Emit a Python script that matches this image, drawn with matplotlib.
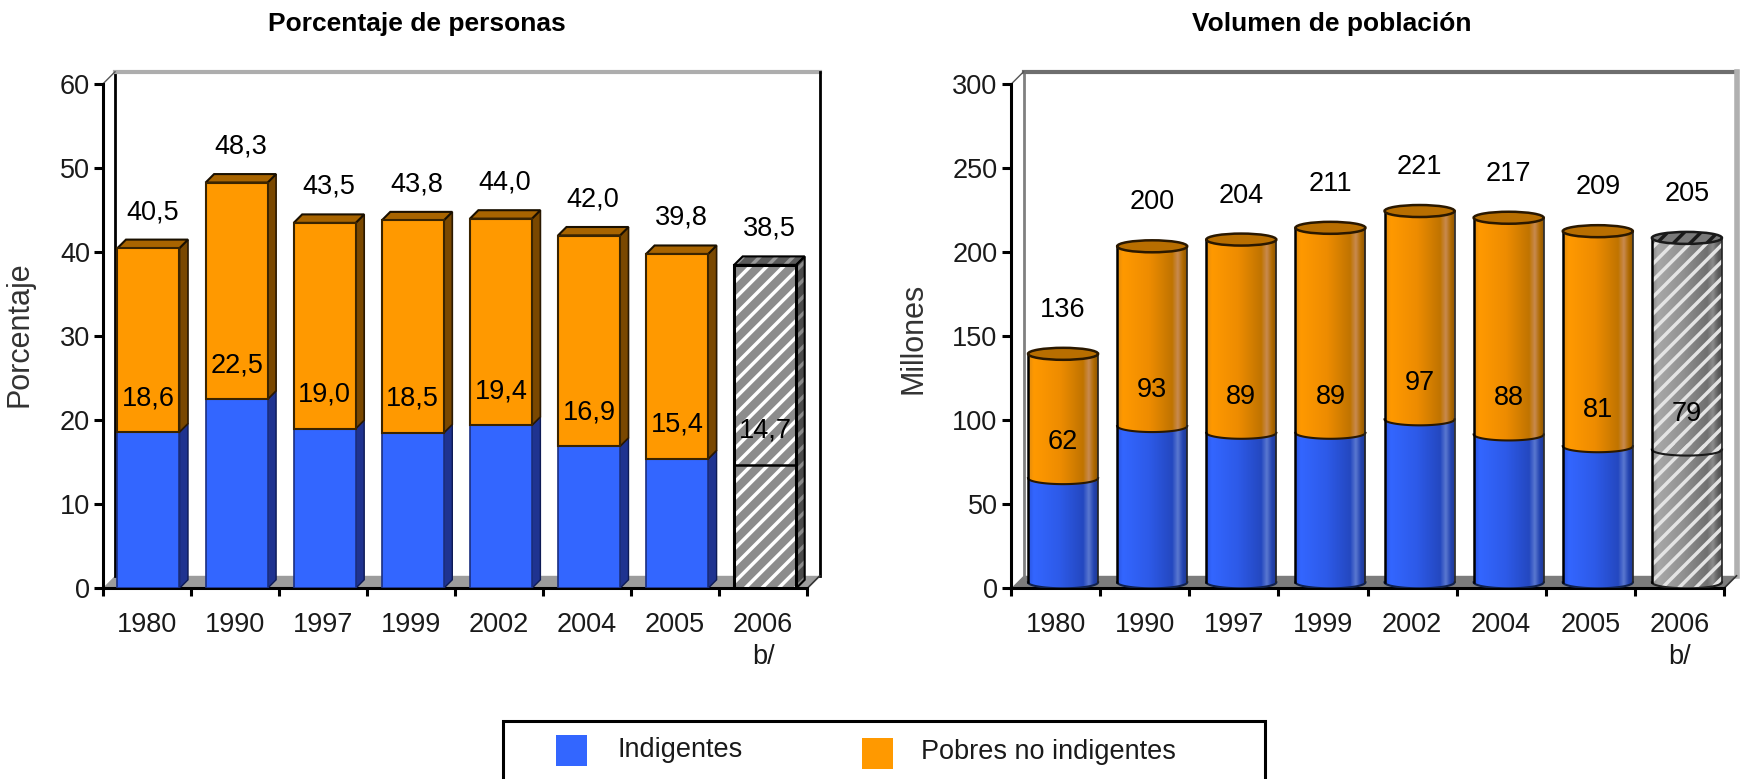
import numpy as np
import matplotlib
matplotlib.use('Agg')
import matplotlib.pyplot as plt
from matplotlib.patches import Polygon, Rectangle, PathPatch, Ellipse
from matplotlib.path import Path

plt.rcParams['font.family'] = ['Liberation Sans', 'DejaVu Sans']
plt.rcParams['hatch.linewidth'] = 2.5

# data
years = ['1980', '1990', '1997', '1999', '2002', '2004', '2005', '2006\nb/']
pct_indigentes = [18.6, 22.5, 19.0, 18.5, 19.4, 16.9, 15.4, 14.7]
pct_pobres = [40.5, 48.3, 43.5, 43.8, 44.0, 42.0, 39.8, 38.5]
mill_indigentes = [62, 93, 89, 89, 97, 88, 81, 79]
mill_pobres = [136, 200, 204, 211, 221, 217, 209, 205]
projected = [False, False, False, False, False, False, False, True]

BLUE = '#3366FF'
ORANGE = '#FF9900'
FS = 19.5

W, H = 1745, 779
fig = plt.figure(figsize=(W / 100, H / 100), dpi=100)


def px_axes(x0, x1, y_top, y_bot):
    return fig.add_axes([x0 / W, 1 - y_bot / H, (x1 - x0) / W, (y_bot - y_top) / H])


def depth(ax, ymax, px_x, px_y):
    bb = ax.get_position()
    return px_x / (bb.width * W) * 8, px_y / (bb.height * H) * ymax


def fmt(v):
    return f"{v:.1f}".replace('.', ',')


def setup(ax, ymax, step, pad):
    ax.set_xlim(0, 8)
    ax.set_ylim(0, ymax)
    ax.patch.set_visible(False)
    for s in ['top', 'right']:
        ax.spines[s].set_visible(False)
    for s in ['left', 'bottom']:
        ax.spines[s].set_linewidth(2.2)
        ax.spines[s].set_color('black')
    ax.set_yticks(np.arange(0, ymax + 1, step))
    ax.tick_params(axis='y', length=6.5, width=2.2, pad=pad, labelsize=FS, labelcolor='#1a1a1a')
    ax.set_xticks(range(9))
    ax.set_xticklabels([])
    ax.tick_params(axis='x', which='major', length=6, width=2.2)
    ax.set_xticks(np.arange(8) + 0.5, minor=True)
    ax.set_xticklabels(years, minor=True, fontsize=FS, color='#1a1a1a', linespacing=1.3)
    ax.tick_params(axis='x', which='minor', length=0, pad=17)


def wall(ax, ymax, floor_c, left_c, top_c, right_c, right_lw):
    dxw, dyw = depth(ax, ymax, 12.5, 12.5)
    ax.add_patch(Polygon([(0, 0), (8, 0), (8 + dxw, dyw), (dxw, dyw)], closed=True,
                         fc=floor_c, ec='none', clip_on=False, zorder=0.5))
    ax.plot([dxw, dxw], [dyw, ymax + dyw], color=left_c, lw=2, clip_on=False, zorder=0.6)
    ax.plot([dxw, 8 + dxw], [ymax + dyw] * 2, color=top_c, lw=3, clip_on=False, zorder=0.6)
    ax.plot([8 + dxw] * 2, [dyw, ymax + dyw], color=right_c, lw=right_lw, clip_on=False, zorder=0.6)
    ax.plot([0, dxw], [ymax, ymax + dyw], color='#555555', lw=1, clip_on=False)
    ax.plot([8, 8 + dxw], [0, dyw], color='#333333', lw=1.2, clip_on=False)


# ---------------- left chart: 3D bars ----------------
ax1 = px_axes(102.5, 807.3, 84.3, 588.3)
setup(ax1, 60, 10, 2.4)
wall(ax1, 60, '#9c9c9c', 'black', '#adadad', 'black', 2)

bw = 0.704
xc1 = np.arange(8) + 0.5 + 0.022
ddx, ddy = depth(ax1, 60, 8.5, 8.5)
upper = [t - i for t, i in zip(pct_pobres, pct_indigentes)]
low_c = ['#8c8c8c' if p else BLUE for p in projected]
up_c = ['#8c8c8c' if p else ORANGE for p in projected]
b_low = ax1.bar(xc1, pct_indigentes, width=bw, color=low_c, edgecolor='#1b2f80', lw=1.2, zorder=4)
b_up = ax1.bar(xc1, upper, bottom=pct_indigentes, width=bw, color=up_c, edgecolor='#3a2400', lw=1.5, zorder=4)
for i, p in enumerate(projected):
    if p:
        for b in (b_low[i], b_up[i]):
            b.set_hatch('//')
            b.set_edgecolor('white')
            b.set_linewidth(0)
        ax1.bar(xc1[i], pct_pobres[i], width=bw, fill=False, edgecolor='black', lw=2.2, zorder=5)
        ax1.plot([xc1[i] - bw / 2, xc1[i] + bw / 2], [pct_indigentes[i]] * 2, color='black', lw=1.8, zorder=5)

for i in range(8):
    x0, x1 = xc1[i] - bw / 2, xc1[i] + bw / 2
    ind, tot = pct_indigentes[i], pct_pobres[i]
    if projected[i]:
        side = Polygon([(x1, 0), (x1 + ddx, ddy), (x1 + ddx, tot + ddy), (x1, tot)], closed=True,
                       fc='#4a4a4a', ec='#8a8a8a', hatch='//', lw=0, zorder=3)
        ax1.add_patch(side)
        ax1.add_patch(Polygon([(x1, 0), (x1 + ddx, ddy), (x1 + ddx, tot + ddy), (x1, tot)], closed=True,
                              fill=False, ec='black', lw=1.5, zorder=3.5))
        ax1.add_patch(Polygon([(x0, tot), (x0 + ddx, tot + ddy), (x1 + ddx, tot + ddy), (x1, tot)],
                              closed=True, fc='#5a5a5a', ec='#9a9a9a', hatch='//', lw=0, zorder=3))
        ax1.add_patch(Polygon([(x0, tot), (x0 + ddx, tot + ddy), (x1 + ddx, tot + ddy), (x1, tot)],
                              closed=True, fill=False, ec='black', lw=1.5, zorder=3.5))
    else:
        ax1.add_patch(Polygon([(x1, 0), (x1 + ddx, ddy), (x1 + ddx, ind + ddy), (x1, ind)], closed=True,
                              fc='#1f3390', ec='#0d1a55', lw=1, zorder=3))
        ax1.add_patch(Polygon([(x1, ind), (x1 + ddx, ind + ddy), (x1 + ddx, tot + ddy), (x1, tot)],
                              closed=True, fc='#7a4800', ec='#2a1800', lw=1.2, zorder=3))
        ax1.add_patch(Polygon([(x0, tot), (x0 + ddx, tot + ddy), (x1 + ddx, tot + ddy), (x1, tot)],
                              closed=True, fc='#a86400', ec='#1a1000', lw=1.5, zorder=3))
    ax1.annotate(fmt(tot), (xc1[i] + ddx / 2, tot), xytext=(0, 36), textcoords='offset pixels',
                 ha='center', va='center', fontsize=FS, color='black', annotation_clip=False)
    ax1.annotate(fmt(ind), (xc1[i], ind), xytext=(0, 34), textcoords='offset pixels',
                 ha='center', va='center', fontsize=FS, color='black', zorder=6)

# ---------------- right chart: cylinders ----------------
ax2 = px_axes(1011, 1724, 84.3, 588.3)
setup(ax2, 300, 50, 3.2)
wall(ax2, 300, '#7c7c7c', '#808080', '#6e6e6e', '#b0b0b0', 4)

cw = 0.786
xc2 = np.arange(8) + 0.5 + 0.084
a = cw / 2
_, b = depth(ax2, 300, 0, 6)
g = np.linspace(0, 1, 120)


def grad_img(stops, colors):
    cols = [matplotlib.colors.to_rgb(c) for c in colors]
    rgb = np.stack([np.interp(g, stops, [c[k] for c in cols]) for k in range(3)], axis=-1)
    return rgb[None, :, :]


stops = [0, 0.08, 0.45, 0.78, 0.86, 0.93, 1.0]
img_blue = grad_img(stops, ['#2a55e0', '#3366ff', '#2d5ae8', '#2448c0', '#5a78d0', '#2444b0', '#1c3690'])
img_orange = grad_img(stops, ['#e08a10', '#ff9900', '#ee8c00', '#c07400', '#c88a50', '#b06a00', '#8a5200'])
img_gray = grad_img(stops, ['#8a8a8a', '#a8a8a8', '#909090', '#707070', '#8c8c8c', '#606060', '#4a4a4a'])


def cyl_path(xc, y0, y1):
    t1 = np.linspace(np.pi, 2 * np.pi, 40)
    t2 = np.linspace(0, np.pi, 40)
    xs = np.r_[xc + a * np.cos(t1), xc + a * np.cos(t2), xc - a]
    ys = np.r_[y0 + b * np.sin(t1), y1 + b * np.sin(t2), y0]
    codes = [Path.MOVETO] + [Path.LINETO] * (len(xs) - 2) + [Path.CLOSEPOLY]
    return Path(np.column_stack([xs, ys]), codes)


def cyl_segment(ax, xc, y0, y1, img, hatch):
    path = cyl_path(xc, y0, y1)
    im = ax.imshow(img, extent=[xc - a, xc + a, y0 - b, y1 + b], aspect='auto',
                   interpolation='bilinear', zorder=3)
    im.set_clip_path(PathPatch(path, transform=ax.transData))
    if hatch:
        ax.add_patch(PathPatch(path, fc='none', ec='#e4e4e4', hatch='//', lw=0, zorder=3.2))


for i in range(8):
    ind, tot = mill_indigentes[i], mill_pobres[i]
    xc = xc2[i]
    if projected[i]:
        cyl_segment(ax2, xc, b, ind + b, img_gray, True)
        cyl_segment(ax2, xc, ind + b, tot + b, img_gray, True)
        cap_fc, edge = '#7a7a7a', '#1a1a1a'
    else:
        cyl_segment(ax2, xc, b, ind + b, img_blue, False)
        cyl_segment(ax2, xc, ind + b, tot + b, img_orange, False)
        cap_fc, edge = '#b86e00', '#2a1800'
    t = np.linspace(np.pi, 2 * np.pi, 40)
    ax2.plot(xc + a * np.cos(t), ind + b + b * np.sin(t), color=edge, lw=1.5, zorder=3.5)
    ax2.plot(xc + a * np.cos(t), b + b * np.sin(t), color='#10204a' if not projected[i] else '#222222',
             lw=1.5, zorder=3.5)
    ax2.plot([xc - a] * 2, [b, tot + b], color='black', lw=1.8, zorder=3.5)
    ax2.plot([xc + a] * 2, [b, tot + b], color='#222222', lw=1.2, zorder=3.5)
    cap = Ellipse((xc, tot + b), 2 * a, 2 * b, fc=cap_fc, ec=edge, lw=1.8, zorder=4)
    ax2.add_patch(cap)
    if projected[i]:
        cap.set_hatch('//')
    ax2.annotate(str(tot), (xc, tot), xytext=(0, 50), textcoords='offset pixels',
                 ha='center', va='center', fontsize=FS, color='black', annotation_clip=False)
    ax2.annotate(str(ind), (xc, ind), xytext=(0, 42), textcoords='offset pixels',
                 ha='center', va='center', fontsize=FS, color='black', zorder=6)

for ax, ymax in ((ax1, 60), (ax2, 300)):
    ax.set_xlim(0, 8)
    ax.set_ylim(0, ymax)

# titles and axis labels
fig.text(417 / W, 1 - 24 / H, 'Porcentaje de personas', ha='center', va='center', fontsize=19, weight='bold')
fig.text(1332 / W, 1 - 24 / H, 'Volumen de población', ha='center', va='center', fontsize=19, weight='bold')
fig.text(20 / W, 1 - 334 / H, 'Porcentaje', rotation=90, ha='center', va='center', fontsize=22, color='#333333')
fig.text(913 / W, 1 - 338 / H, 'Millones', rotation=90, ha='center', va='center', fontsize=22, color='#333333')

# legend box (runs off the bottom edge as in the reference)
fig.add_artist(Rectangle((503 / W, -0.05), (1265 - 503) / W, (779 - 721) / H + 0.05,
                         transform=fig.transFigure, fill=False, ec='black', lw=2.2))
fig.add_artist(Rectangle((556 / W, 1 - 766 / H), 31 / W, 31 / H, transform=fig.transFigure, fc=BLUE, ec='none'))
fig.add_artist(Rectangle((862 / W, 1 - 769 / H), 31 / W, 31 / H, transform=fig.transFigure, fc=ORANGE, ec='none'))
fig.text(618 / W, 1 - 750 / H, 'Indigentes', ha='left', va='center', fontsize=FS, color='#1a1a1a')
fig.text(921 / W, 1 - 752 / H, 'Pobres no indigentes', ha='left', va='center', fontsize=FS, color='#1a1a1a')

fig.savefig('out.png', dpi=100)
